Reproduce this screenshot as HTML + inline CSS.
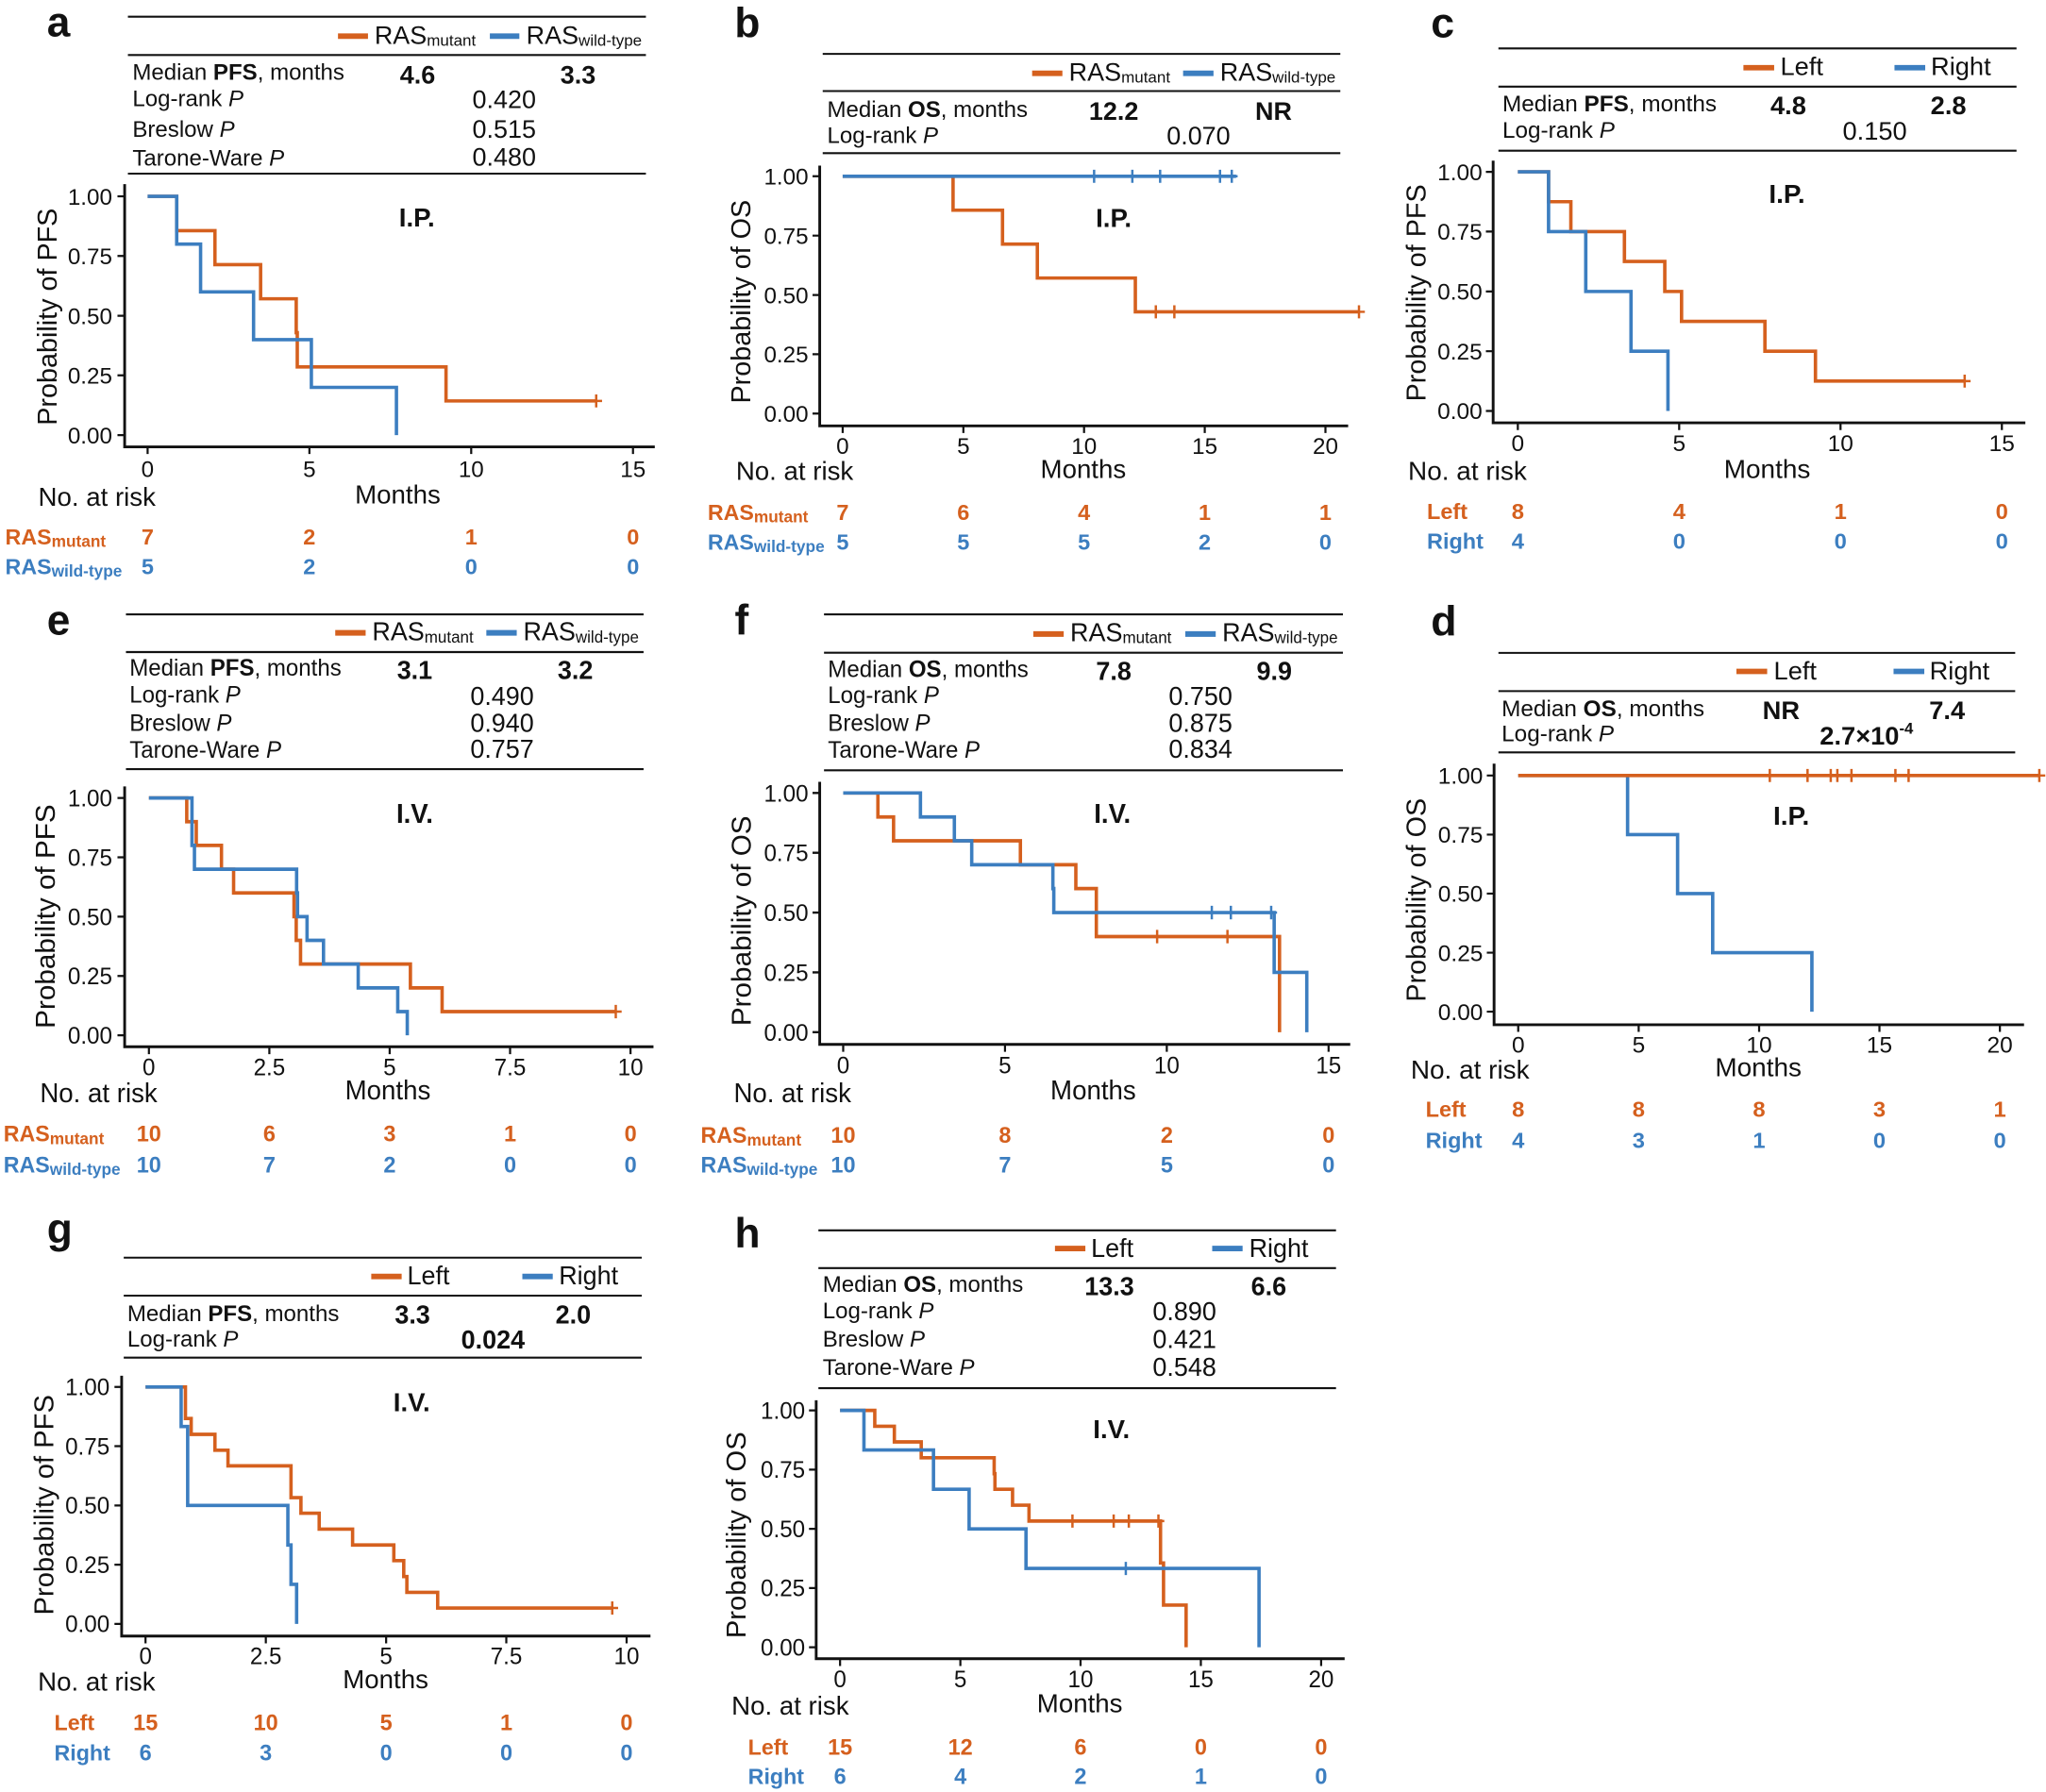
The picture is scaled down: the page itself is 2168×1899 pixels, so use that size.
<!DOCTYPE html>
<html><head><meta charset="utf-8"><style>
html,body{margin:0;padding:0;background:#fff;}
svg{display:block;}
text{font-family:"Liberation Sans",Arial,sans-serif;fill:#111;}
.lt{font-size:32px;font-weight:bold;}
.t{font-size:17.4px;}
.v{font-size:19.5px;}
.vb{font-size:19.5px;font-weight:bold;}
.tk{font-size:17.5px;}
.ax{font-size:20px;}
.yt{font-size:20.8px;}
.lg{font-size:19.5px;}
.sub{font-size:12.3px;}
.ip{font-size:20px;font-weight:bold;}
.rlo{font-size:16.8px;font-weight:bold;fill:#D5601E;}
.rlb{font-size:16.8px;font-weight:bold;fill:#3C7EC0;}
.rso{font-size:12.5px;}
.rno{font-size:17px;font-weight:bold;fill:#D5601E;text-anchor:middle;}
.rnb{font-size:17px;font-weight:bold;fill:#3C7EC0;text-anchor:middle;}
.m{text-anchor:middle;}
.e{text-anchor:end;}
.rule{stroke:#111;stroke-width:1.5;}
.axis{stroke:#111;stroke-width:2.1;fill:none;}
.tick{stroke:#111;stroke-width:1.6;}
.co{stroke:#D5601E;stroke-width:2.6;fill:none;}
.cb{stroke:#3C7EC0;stroke-width:2.6;fill:none;}
.ko{stroke:#D5601E;stroke-width:1.8;fill:none;}
.kb{stroke:#3C7EC0;stroke-width:1.8;fill:none;}
.lo{stroke:#D5601E;stroke-width:4.2;}
.lb{stroke:#3C7EC0;stroke-width:4.2;}
</style></head><body>
<svg width="2168" height="1899" viewBox="0 0 1568 1373.5" xmlns="http://www.w3.org/2000/svg">
<rect x="0" y="0" width="1568" height="1373.5" fill="#fff"/>

<!-- ================= PANEL A ================= -->
<g>
<text class="lt" x="36" y="28">a</text>
<line class="rule" x1="98" y1="12.8" x2="495" y2="12.8"/>
<line class="lo" x1="259" y1="27.7" x2="282" y2="27.7"/>
<text class="lg" x="287" y="33.6">RAS<tspan class="sub" dy="1.5">mutant</tspan></text>
<line class="lb" x1="375.4" y1="27.7" x2="398" y2="27.7"/>
<text class="lg" x="403.3" y="33.6">RAS<tspan class="sub" dy="1.5">wild-type</tspan></text>
<line class="rule" x1="98" y1="42.2" x2="495" y2="42.2"/>
<text class="t" x="101.5" y="61.3">Median <tspan font-weight="bold">PFS</tspan>, months</text>
<text class="vb m" x="320" y="64">4.6</text>
<text class="vb m" x="443" y="64">3.3</text>
<text class="t" x="101.5" y="81.2">Log-rank <tspan font-style="italic">P</tspan></text>
<text class="v" x="362" y="82.7">0.420</text>
<text class="t" x="101.5" y="104.9">Breslow <tspan font-style="italic">P</tspan></text>
<text class="v" x="362" y="105.5">0.515</text>
<text class="t" x="101.5" y="126.9">Tarone-Ware <tspan font-style="italic">P</tspan></text>
<text class="v" x="362" y="126.9">0.480</text>
<line class="rule" x1="98" y1="133.1" x2="495" y2="133.1"/>
<path class="axis" d="M95.5,141.1 V342.5 H501.8"/>
<path class="tick" d="M90,150.5H95.5M90,196.2H95.5M90,242H95.5M90,287.7H95.5M90,333.5H95.5M113.1,342.5V348M237.1,342.5V348M361.1,342.5V348M485.1,342.5V348"/>
<text class="tk e" x="86" y="156.8">1.00</text>
<text class="tk e" x="86" y="202.5">0.75</text>
<text class="tk e" x="86" y="248.3">0.50</text>
<text class="tk e" x="86" y="294">0.25</text>
<text class="tk e" x="86" y="339.8">0.00</text>
<text class="tk m" x="113.1" y="365.5">0</text>
<text class="tk m" x="237.1" y="365.5">5</text>
<text class="tk m" x="361.1" y="365.5">10</text>
<text class="tk m" x="485.1" y="365.5">15</text>
<text class="ax m" x="304.8" y="386">Months</text>
<text class="ax" x="29.3" y="387.8">No. at risk</text>
<text class="yt m" transform="translate(43.5,242.8) rotate(-90)">Probability of PFS</text>
<text class="ip m" x="319.5" y="173.5">I.P.</text>
<path class="co" d="M113.1,150.5 H135.4 V176.8 H164.7 V202.8 H199.7 V229 H227.0 V255 H227.8 V281.2 H341.8 V307.3 H456.9"/>
<path class="ko" d="M452.4,307.3H461.4M456.9,302.3V312.3"/>
<path class="cb" d="M113.1,150.5 H135.4 V187.1 H153.7 V223.7 H194.3 V260.3 H238.6 V296.9 H303.8 V333.5"/>
<text class="rlo" x="4" y="417.2">RAS<tspan class="rso" dy="2">mutant</tspan></text>
<text class="rlb" x="4" y="440">RAS<tspan class="rso" dy="2">wild-type</tspan></text>
<text class="rno" x="113.1" y="417.2">7</text><text class="rno" x="237.1" y="417.2">2</text><text class="rno" x="361.1" y="417.2">1</text><text class="rno" x="485.1" y="417.2">0</text>
<text class="rnb" x="113.1" y="440">5</text><text class="rnb" x="237.1" y="440">2</text><text class="rnb" x="361.1" y="440">0</text><text class="rnb" x="485.1" y="440">0</text>
</g>

<!-- ================= PANEL B ================= -->
<g>
<text class="lt" x="563" y="28.5">b</text>
<line class="rule" x1="630.5" y1="41.3" x2="1027.2" y2="41.3"/>
<line class="lo" x1="791" y1="56.2" x2="814.2" y2="56.2"/>
<text class="lg" x="819.2" y="61.9">RAS<tspan class="sub" dy="1.5">mutant</tspan></text>
<line class="lb" x1="906.7" y1="56.2" x2="930" y2="56.2"/>
<text class="lg" x="935" y="61.9">RAS<tspan class="sub" dy="1.5">wild-type</tspan></text>
<line class="rule" x1="630.5" y1="69.8" x2="1027.2" y2="69.8"/>
<text class="t" x="633.9" y="89.8">Median <tspan font-weight="bold">OS</tspan>, months</text>
<text class="vb m" x="853.5" y="92">12.2</text>
<text class="vb m" x="976" y="92">NR</text>
<text class="t" x="633.9" y="109.7">Log-rank <tspan font-style="italic">P</tspan></text>
<text class="v" x="894.1" y="110.8">0.070</text>
<line class="rule" x1="630.5" y1="117.4" x2="1027.2" y2="117.4"/>
<path class="axis" d="M628.2,126.9 V326.4 H1033.2"/>
<path class="tick" d="M622.7,135.1H628.2M622.7,180.6H628.2M622.7,226.1H628.2M622.7,271.5H628.2M622.7,317H628.2M645.8,326.4V331.9M738.3,326.4V331.9M830.8,326.4V331.9M923.3,326.4V331.9M1015.8,326.4V331.9"/>
<text class="tk e" x="619.5" y="141.4">1.00</text>
<text class="tk e" x="619.5" y="186.9">0.75</text>
<text class="tk e" x="619.5" y="232.4">0.50</text>
<text class="tk e" x="619.5" y="277.8">0.25</text>
<text class="tk e" x="619.5" y="323.3">0.00</text>
<text class="tk m" x="645.8" y="347.8">0</text>
<text class="tk m" x="738.3" y="347.8">5</text>
<text class="tk m" x="830.8" y="347.8">10</text>
<text class="tk m" x="923.3" y="347.8">15</text>
<text class="tk m" x="1015.8" y="347.8">20</text>
<text class="ax m" x="830.2" y="366.3">Months</text>
<text class="ax" x="564" y="367.7">No. at risk</text>
<text class="yt m" transform="translate(574.8,231.2) rotate(-90)">Probability of OS</text>
<text class="ip m" x="853.5" y="173.9">I.P.</text>
<path class="co" d="M645.8,135.1 H730.4 V161.1 H768.3 V187.1 H795.0 V213.1 H870.1 V239.0 H1041.5"/>
<path class="ko" d="M881.3,239H890.3M885.8,234V244M895.5,239H904.5M900,234V244M1037,239H1046M1041.5,234V244"/>
<path class="cb" d="M645.8,135.1 H947.3"/>
<path class="kb" d="M834,135.1H843M838.5,130.1V140.1M863.3,135.1H872.3M867.8,130.1V140.1M884.6,135.1H893.6M889.1,130.1V140.1M930.5,135.1H939.5M935,130.1V140.1M939.5,135.1H948.5M944,130.1V140.1"/>
<text class="rlo" x="542.3" y="398.5">RAS<tspan class="rso" dy="2">mutant</tspan></text>
<text class="rlb" x="542.3" y="421.3">RAS<tspan class="rso" dy="2">wild-type</tspan></text>
<text class="rno" x="645.8" y="398.5">7</text><text class="rno" x="738.3" y="398.5">6</text><text class="rno" x="830.8" y="398.5">4</text><text class="rno" x="923.3" y="398.5">1</text><text class="rno" x="1015.8" y="398.5">1</text>
<text class="rnb" x="645.8" y="421.3">5</text><text class="rnb" x="738.3" y="421.3">5</text><text class="rnb" x="830.8" y="421.3">5</text><text class="rnb" x="923.3" y="421.3">2</text><text class="rnb" x="1015.8" y="421.3">0</text>
</g>

<!-- ================= PANEL C ================= -->
<g transform="matrix(1.0111,0,0,1,-11.56,0)">
<text class="lt" x="1096" y="28.5">c</text>
<line class="rule" x1="1147.2" y1="37.1" x2="1539.9" y2="37.1"/>
<line class="lo" x1="1332.9" y1="51.9" x2="1356.2" y2="51.9"/>
<text class="lg" x="1360.9" y="57.6">Left</text>
<line class="lb" x1="1447.4" y1="51.9" x2="1470.7" y2="51.9"/>
<text class="lg" x="1475" y="57.6">Right</text>
<line class="rule" x1="1147.2" y1="66.4" x2="1539.9" y2="66.4"/>
<text class="t" x="1150.2" y="85.5">Median <tspan font-weight="bold">PFS</tspan>, months</text>
<text class="vb m" x="1366.9" y="87.5">4.8</text>
<text class="vb m" x="1488.3" y="87.5">2.8</text>
<text class="t" x="1150.2" y="105.5">Log-rank <tspan font-style="italic">P</tspan></text>
<text class="v" x="1408.1" y="107">0.150</text>
<line class="rule" x1="1147.2" y1="115.5" x2="1539.9" y2="115.5"/>
<path class="axis" d="M1143.2,123.1 V324.1 H1546.6"/>
<path class="tick" d="M1137.7,131.7H1143.2M1137.7,177.5H1143.2M1137.7,223.4H1143.2M1137.7,269.2H1143.2M1137.7,315H1143.2M1161.9,324.1V329.6M1284.2,324.1V329.6M1406.5,324.1V329.6M1528.8,324.1V329.6"/>
<text class="tk e" x="1135" y="138">1.00</text>
<text class="tk e" x="1135" y="183.8">0.75</text>
<text class="tk e" x="1135" y="229.7">0.50</text>
<text class="tk e" x="1135" y="275.5">0.25</text>
<text class="tk e" x="1135" y="321.3">0.00</text>
<text class="tk m" x="1161.9" y="345.6">0</text>
<text class="tk m" x="1284.2" y="345.6">5</text>
<text class="tk m" x="1406.5" y="345.6">10</text>
<text class="tk m" x="1528.8" y="345.6">15</text>
<text class="ax m" x="1350.9" y="366.3">Months</text>
<text class="ax" x="1078.7" y="367.7">No. at risk</text>
<text class="yt m" transform="translate(1092,224.5) rotate(-90)">Probability of PFS</text>
<text class="ip m" x="1365.9" y="155.4">I.P.</text>
<path class="co" d="M1161.9,131.7 H1185.2 V154.6 H1202.1 V177.5 H1242.7 V200.4 H1273.3 V223.4 H1286 V246.3 H1349.2 V269.2 H1387.5 V292.1 H1500.6"/>
<path class="ko" d="M1496.1,292.1H1505.1M1500.6,287.1V297.1"/>
<path class="cb" d="M1161.9,131.7 H1185.2 V177.5 H1213.4 V223.4 H1247.7 V269.2 H1275.7 V315"/>
<text class="rlo" x="1093" y="397.7">Left</text>
<text class="rlb" x="1093" y="420.5">Right</text>
<text class="rno" x="1161.9" y="397.7">8</text><text class="rno" x="1284.2" y="397.7">4</text><text class="rno" x="1406.5" y="397.7">1</text><text class="rno" x="1528.8" y="397.7">0</text>
<text class="rnb" x="1161.9" y="420.5">4</text><text class="rnb" x="1284.2" y="420.5">0</text><text class="rnb" x="1406.5" y="420.5">0</text><text class="rnb" x="1528.8" y="420.5">0</text>
</g>

<!-- ================= PANEL D ================= -->
<g transform="matrix(1.0111,0,0,1,-11.56,0)">
<text class="lt" x="1096" y="487">d</text>
<line class="rule" x1="1147.2" y1="500.4" x2="1538.9" y2="500.4"/>
<line class="lo" x1="1327.6" y1="514.6" x2="1350.9" y2="514.6"/>
<text class="lg" x="1355.9" y="520.6">Left</text>
<line class="lb" x1="1446.7" y1="514.6" x2="1470" y2="514.6"/>
<text class="lg" x="1474" y="520.6">Right</text>
<line class="rule" x1="1147.2" y1="529.7" x2="1538.9" y2="529.7"/>
<text class="t" x="1149.6" y="549.1">Median <tspan font-weight="bold">OS</tspan>, months</text>
<text class="vb m" x="1361.5" y="551">NR</text>
<text class="vb m" x="1487.3" y="551">7.4</text>
<text class="t" x="1149.6" y="568.2">Log-rank <tspan font-style="italic">P</tspan></text>
<text class="vb" x="1390.8" y="570.5">2.7×10<tspan font-size="12" dy="-8">-4</tspan></text>
<line class="rule" x1="1147.2" y1="576.7" x2="1538.9" y2="576.7"/>
<path class="axis" d="M1143.9,585.3 V785.4 H1545.6"/>
<path class="tick" d="M1138.4,594.4H1143.9M1138.4,639.7H1143.9M1138.4,684.9H1143.9M1138.4,730.2H1143.9M1138.4,775.4H1143.9M1162.2,785.4V790.9M1253.5,785.4V790.9M1344.8,785.4V790.9M1436,785.4V790.9M1527.3,785.4V790.9"/>
<text class="tk e" x="1135.5" y="600.7">1.00</text>
<text class="tk e" x="1135.5" y="646">0.75</text>
<text class="tk e" x="1135.5" y="691.2">0.50</text>
<text class="tk e" x="1135.5" y="736.5">0.25</text>
<text class="tk e" x="1135.5" y="781.7">0.00</text>
<text class="tk m" x="1162.2" y="806.8">0</text>
<text class="tk m" x="1253.5" y="806.8">5</text>
<text class="tk m" x="1344.8" y="806.8">10</text>
<text class="tk m" x="1436" y="806.8">15</text>
<text class="tk m" x="1527.3" y="806.8">20</text>
<text class="ax m" x="1344.2" y="824.8">Months</text>
<text class="ax" x="1080.7" y="826.8">No. at risk</text>
<text class="yt m" transform="translate(1092,689.8) rotate(-90)">Probability of OS</text>
<text class="ip m" x="1369.2" y="632.3">I.P.</text>
<path class="cb" d="M1162.2,594.4 H1245.1 V639.7 H1283 V684.9 H1309.6 V730.2 H1384.8 V775.4"/>
<path class="co" d="M1162.2,594.4 H1557.2"/>
<path class="ko" d="M1348.4,594.4H1357.4M1352.9,589.4V599.4M1377,594.4H1386M1381.5,589.4V599.4M1394.6,594.4H1403.6M1399.1,589.4V599.4M1399.6,594.4H1408.6M1404.1,589.4V599.4M1410.3,594.4H1419.3M1414.8,589.4V599.4M1443.6,594.4H1452.6M1448.1,589.4V599.4M1453.6,594.4H1462.6M1458.1,589.4V599.4M1552.7,594.4H1561.7M1557.2,589.4V599.4"/>
<text class="rlo" x="1092" y="856.1">Left</text>
<text class="rlb" x="1092" y="879.8">Right</text>
<text class="rno" x="1162.2" y="856.1">8</text><text class="rno" x="1253.5" y="856.1">8</text><text class="rno" x="1344.8" y="856.1">8</text><text class="rno" x="1436" y="856.1">3</text><text class="rno" x="1527.3" y="856.1">1</text>
<text class="rnb" x="1162.2" y="879.8">4</text><text class="rnb" x="1253.5" y="879.8">3</text><text class="rnb" x="1344.8" y="879.8">1</text><text class="rnb" x="1436" y="879.8">0</text><text class="rnb" x="1527.3" y="879.8">0</text>
</g>

<!-- ================= PANEL E ================= -->
<g transform="matrix(1,0,0,1.0324,0,-14.76)">
<text class="lt" x="36" y="485.5">e</text>
<line class="rule" x1="96.5" y1="470.4" x2="493.2" y2="470.4"/>
<line class="lo" x1="256.9" y1="484.1" x2="280.2" y2="484.1"/>
<text class="lg" x="285.2" y="489.8">RAS<tspan class="sub" dy="1.5">mutant</tspan></text>
<line class="lb" x1="372.7" y1="484.1" x2="396" y2="484.1"/>
<text class="lg" x="401" y="489.8">RAS<tspan class="sub" dy="1.5">wild-type</tspan></text>
<line class="rule" x1="96.5" y1="498.4" x2="493.2" y2="498.4"/>
<text class="t" x="99.2" y="516">Median <tspan font-weight="bold">PFS</tspan>, months</text>
<text class="vb m" x="317.8" y="518.5">3.1</text>
<text class="vb m" x="440.9" y="518.5">3.2</text>
<text class="t" x="99.2" y="536">Log-rank <tspan font-style="italic">P</tspan></text>
<text class="v" x="360.4" y="537.5">0.490</text>
<text class="t" x="99.2" y="556.8">Breslow <tspan font-style="italic">P</tspan></text>
<text class="v" x="360.4" y="557.5">0.940</text>
<text class="t" x="99.2" y="576.8">Tarone-Ware <tspan font-style="italic">P</tspan></text>
<text class="v" x="360.4" y="577">0.757</text>
<line class="rule" x1="96.5" y1="585.3" x2="493.2" y2="585.3"/>
<path class="axis" d="M95.5,598.1 V791.4 H500.8"/>
<path class="tick" d="M90,606.7H95.5M90,650.75H95.5M90,694.8H95.5M90,738.85H95.5M90,782.9H95.5M114.1,791.4V796.9M206.4,791.4V796.9M298.6,791.4V796.9M390.9,791.4V796.9M483.2,791.4V796.9"/>
<text class="tk e" x="86" y="613">1.00</text>
<text class="tk e" x="86" y="657">0.75</text>
<text class="tk e" x="86" y="701.1">0.50</text>
<text class="tk e" x="86" y="745.1">0.25</text>
<text class="tk e" x="86" y="789.2">0.00</text>
<text class="tk m" x="114.1" y="812.6">0</text>
<text class="tk m" x="206.4" y="812.6">2.5</text>
<text class="tk m" x="298.6" y="812.6">5</text>
<text class="tk m" x="390.9" y="812.6">7.5</text>
<text class="tk m" x="483.2" y="812.6">10</text>
<text class="ax m" x="297.2" y="830.5">Months</text>
<text class="ax" x="30.6" y="832.5">No. at risk</text>
<text class="yt m" transform="translate(42,694.6) rotate(-90)">Probability of PFS</text>
<text class="ip m" x="317.8" y="625.2">I.V.</text>
<path class="co" d="M114.1,606.7 H143.1 V624.3 H150.4 V641.9 H169.7 V659.6 H179 V677.2 H225.3 V694.8 H227 V712.4 H230.3 V730 H314.5 V747.7 H338.8 V765.3 H471.9"/>
<path class="ko" d="M467.4,765.3H476.4M471.9,760.3V770.3"/>
<path class="cb" d="M114.1,606.7 H147.1 V641.9 H149 V659.6 H227.3 V677.2 H228 V694.8 H235.3 V712.4 H247.9 V730 H274.5 V747.7 H304.8 V765.3 H312.1 V782.9"/>
<text class="rlo" x="2.7" y="861.8">RAS<tspan class="rso" dy="2">mutant</tspan></text>
<text class="rlb" x="2.7" y="884.6">RAS<tspan class="rso" dy="2">wild-type</tspan></text>
<text class="rno" x="114.1" y="861.8">10</text><text class="rno" x="206.4" y="861.8">6</text><text class="rno" x="298.6" y="861.8">3</text><text class="rno" x="390.9" y="861.8">1</text><text class="rno" x="483.2" y="861.8">0</text>
<text class="rnb" x="114.1" y="884.6">10</text><text class="rnb" x="206.4" y="884.6">7</text><text class="rnb" x="298.6" y="884.6">2</text><text class="rnb" x="390.9" y="884.6">0</text><text class="rnb" x="483.2" y="884.6">0</text>
</g>

<!-- ================= PANEL F ================= -->
<g transform="matrix(1,0,0,1.0324,0,-14.76)">
<text class="lt" x="563" y="485.5">f</text>
<line class="rule" x1="631.5" y1="470.4" x2="1029.2" y2="470.4"/>
<line class="lo" x1="791.9" y1="485" x2="815.2" y2="485"/>
<text class="lg" x="820.2" y="490.4">RAS<tspan class="sub" dy="1.5">mutant</tspan></text>
<line class="lb" x1="908.4" y1="485" x2="931.7" y2="485"/>
<text class="lg" x="936.7" y="490.4">RAS<tspan class="sub" dy="1.5">wild-type</tspan></text>
<line class="rule" x1="631.5" y1="498.9" x2="1029.2" y2="498.9"/>
<text class="t" x="634.5" y="516.9">Median <tspan font-weight="bold">OS</tspan>, months</text>
<text class="vb m" x="853.5" y="519">7.8</text>
<text class="vb m" x="976.6" y="519">9.9</text>
<text class="t" x="634.5" y="536.3">Log-rank <tspan font-style="italic">P</tspan></text>
<text class="v" x="895.7" y="537.5">0.750</text>
<text class="t" x="634.5" y="556.8">Breslow <tspan font-style="italic">P</tspan></text>
<text class="v" x="895.7" y="557.5">0.875</text>
<text class="t" x="634.5" y="576.8">Tarone-Ware <tspan font-style="italic">P</tspan></text>
<text class="v" x="895.7" y="577">0.834</text>
<line class="rule" x1="631.5" y1="586.2" x2="1029.2" y2="586.2"/>
<path class="axis" d="M628.2,594.7 V789.7 H1034.8"/>
<path class="tick" d="M622.7,603H628.2M622.7,647.4H628.2M622.7,691.8H628.2M622.7,736.2H628.2M622.7,780.6H628.2M646.2,789.7V795.2M770.2,789.7V795.2M894.2,789.7V795.2M1018.2,789.7V795.2"/>
<text class="tk e" x="619.5" y="609.3">1.00</text>
<text class="tk e" x="619.5" y="653.7">0.75</text>
<text class="tk e" x="619.5" y="698.1">0.50</text>
<text class="tk e" x="619.5" y="742.5">0.25</text>
<text class="tk e" x="619.5" y="786.9">0.00</text>
<text class="tk m" x="646.2" y="811.2">0</text>
<text class="tk m" x="770.2" y="811.2">5</text>
<text class="tk m" x="894.2" y="811.2">10</text>
<text class="tk m" x="1018.2" y="811.2">15</text>
<text class="ax m" x="837.8" y="830.5">Months</text>
<text class="ax" x="562.3" y="832.5">No. at risk</text>
<text class="yt m" transform="translate(575.5,697.9) rotate(-90)">Probability of OS</text>
<text class="ip m" x="852.5" y="625.2">I.V.</text>
<path class="co" d="M646.2,603 H672.8 V620.8 H684.8 V638.5 H782 V656.3 H824.5 V674 H840.2 V709.6 H980.6 V780.6"/>
<path class="ko" d="M882.3,709.6H891.3M886.8,704.6V714.6M936.2,709.6H945.2M940.7,704.6V714.6"/>
<path class="cb" d="M646.2,603 H705.4 V620.8 H731.4 V638.5 H744.7 V656.3 H806.9 V674 H807.6 V691.8 H976.5 V736.2 H1001.5 V780.6"/>
<path class="kb" d="M924.2,691.8H933.2M928.7,686.8V696.8M938.8,691.8H947.8M943.3,686.8V696.8M969.7,691.8H978.7M974.2,686.8V696.8"/>
<text class="rlo" x="537" y="862.7">RAS<tspan class="rso" dy="2">mutant</tspan></text>
<text class="rlb" x="537" y="884.6">RAS<tspan class="rso" dy="2">wild-type</tspan></text>
<text class="rno" x="646.2" y="862.7">10</text><text class="rno" x="770.2" y="862.7">8</text><text class="rno" x="894.2" y="862.7">2</text><text class="rno" x="1018.2" y="862.7">0</text>
<text class="rnb" x="646.2" y="884.6">10</text><text class="rnb" x="770.2" y="884.6">7</text><text class="rnb" x="894.2" y="884.6">5</text><text class="rnb" x="1018.2" y="884.6">0</text>
</g>

<!-- ================= PANEL G ================= -->
<g transform="matrix(1,0,0,1.01446,0,-13.28)">
<text class="lt" x="36" y="952">g</text>
<line class="rule" x1="94.8" y1="963.3" x2="491.8" y2="963.3"/>
<line class="lo" x1="284.5" y1="977.5" x2="307.8" y2="977.5"/>
<text class="lg" x="312.1" y="983.5">Left</text>
<line class="lb" x1="400.3" y1="977.5" x2="423.6" y2="977.5"/>
<text class="lg" x="428.3" y="983.5">Right</text>
<line class="rule" x1="94.8" y1="992" x2="491.8" y2="992"/>
<text class="t" x="97.5" y="1011.1">Median <tspan font-weight="bold">PFS</tspan>, months</text>
<text class="vb m" x="316.1" y="1013">3.3</text>
<text class="vb m" x="439.3" y="1013">2.0</text>
<text class="t" x="97.5" y="1030.5">Log-rank <tspan font-style="italic">P</tspan></text>
<text class="vb" x="353.4" y="1032">0.024</text>
<line class="rule" x1="94.8" y1="1038.8" x2="491.8" y2="1038.8"/>
<path class="axis" d="M93.2,1052.5 V1249.2 H498.5"/>
<path class="tick" d="M87.7,1061H93.2M87.7,1105.75H93.2M87.7,1150.5H93.2M87.7,1195.25H93.2M87.7,1240H93.2M111.5,1249.2V1254.7M203.7,1249.2V1254.7M295.9,1249.2V1254.7M388,1249.2V1254.7M480.2,1249.2V1254.7"/>
<text class="tk e" x="84" y="1067.3">1.00</text>
<text class="tk e" x="84" y="1112">0.75</text>
<text class="tk e" x="84" y="1156.8">0.50</text>
<text class="tk e" x="84" y="1201.5">0.25</text>
<text class="tk e" x="84" y="1246.3">0.00</text>
<text class="tk m" x="111.5" y="1270.3">0</text>
<text class="tk m" x="203.7" y="1270.3">2.5</text>
<text class="tk m" x="295.9" y="1270.3">5</text>
<text class="tk m" x="388" y="1270.3">7.5</text>
<text class="tk m" x="480.2" y="1270.3">10</text>
<text class="ax m" x="295.5" y="1288.5">Months</text>
<text class="ax" x="29" y="1290.5">No. at risk</text>
<text class="yt m" transform="translate(40.8,1150.1) rotate(-90)">Probability of PFS</text>
<text class="ip m" x="315.5" y="1079.5">I.V.</text>
<path class="co" d="M111.5,1061 H142.1 V1084.8 H146.5 V1096.8 H164.7 V1108.8 H174.7 V1120.6 H223 V1144.6 H230.6 V1156.4 H244.6 V1168.4 H270.2 V1180.4 H301.8 V1192.2 H309.4 V1204.2 H311.8 V1216.2 H335.4 V1228 H469.2"/>
<path class="ko" d="M464.7,1228H473.7M469.2,1223V1233"/>
<path class="cb" d="M111.5,1061 H138.8 V1090.9 H143.8 V1150.5 H220.6 V1180.4 H223 V1210.1 H227.3 V1240"/>
<text class="rlo" x="41.6" y="1320.4">Left</text>
<text class="rlb" x="41.6" y="1343.2">Right</text>
<text class="rno" x="111.5" y="1320.4">15</text><text class="rno" x="203.7" y="1320.4">10</text><text class="rno" x="295.9" y="1320.4">5</text><text class="rno" x="388" y="1320.4">1</text><text class="rno" x="480.2" y="1320.4">0</text>
<text class="rnb" x="111.5" y="1343.2">6</text><text class="rnb" x="203.7" y="1343.2">3</text><text class="rnb" x="295.9" y="1343.2">0</text><text class="rnb" x="388" y="1343.2">0</text><text class="rnb" x="480.2" y="1343.2">0</text>
</g>

<!-- ================= PANEL H ================= -->
<g transform="matrix(1,0,0,1.01446,0,-13.28)">
<text class="lt" x="563" y="955.6">h</text>
<line class="rule" x1="627.2" y1="942.7" x2="1023.9" y2="942.7"/>
<line class="lo" x1="808.5" y1="956.4" x2="831.8" y2="956.4"/>
<text class="lg" x="836.2" y="962.7">Left</text>
<line class="lb" x1="929" y1="956.4" x2="952.3" y2="956.4"/>
<text class="lg" x="957.3" y="962.7">Right</text>
<line class="rule" x1="627.2" y1="971.2" x2="1023.9" y2="971.2"/>
<text class="t" x="630.5" y="989.2">Median <tspan font-weight="bold">OS</tspan>, months</text>
<text class="vb m" x="850.2" y="991.5">13.3</text>
<text class="vb m" x="972.3" y="991.5">6.6</text>
<text class="t" x="630.5" y="1009.2">Log-rank <tspan font-style="italic">P</tspan></text>
<text class="v" x="883.4" y="1010.5">0.890</text>
<text class="t" x="630.5" y="1030.5">Breslow  <tspan font-style="italic">P</tspan></text>
<text class="v" x="883.4" y="1031.5">0.421</text>
<text class="t" x="630.5" y="1051.9">Tarone-Ware  <tspan font-style="italic">P</tspan></text>
<text class="v" x="883.4" y="1052.5">0.548</text>
<line class="rule" x1="627.2" y1="1061.9" x2="1023.9" y2="1061.9"/>
<path class="axis" d="M625.5,1071 V1266.3 H1030.5"/>
<path class="tick" d="M620,1078.7H625.5M620,1123.45H625.5M620,1168.2H625.5M620,1212.95H625.5M620,1257.7H625.5M643.8,1266.3V1271.8M736,1266.3V1271.8M828.1,1266.3V1271.8M920.3,1266.3V1271.8M1012.5,1266.3V1271.8"/>
<text class="tk e" x="617" y="1085">1.00</text>
<text class="tk e" x="617" y="1129.7">0.75</text>
<text class="tk e" x="617" y="1174.5">0.50</text>
<text class="tk e" x="617" y="1219.2">0.25</text>
<text class="tk e" x="617" y="1264">0.00</text>
<text class="tk m" x="643.8" y="1287.8">0</text>
<text class="tk m" x="736" y="1287.8">5</text>
<text class="tk m" x="828.1" y="1287.8">10</text>
<text class="tk m" x="920.3" y="1287.8">15</text>
<text class="tk m" x="1012.5" y="1287.8">20</text>
<text class="ax m" x="827.5" y="1306.8">Months</text>
<text class="ax" x="560.6" y="1308.5">No. at risk</text>
<text class="yt m" transform="translate(571.5,1172.9) rotate(-90)">Probability of OS</text>
<text class="ip m" x="851.8" y="1099.5">I.V.</text>
<path class="co" d="M643.8,1078.7 H670.4 V1090.7 H685.4 V1102.5 H706 V1114.5 H761.9 V1126.5 H762.5 V1138.3 H776 V1150.3 H788.6 V1162.3 H889.4 V1194 H891.7 V1225.8 H909 V1257.7"/>
<path class="ko" d="M817.4,1162.3H826.4M821.9,1157.3V1167.3M849,1162.3H858M853.5,1157.3V1167.3M860.6,1162.3H869.6M865.1,1157.3V1167.3M883.3,1162.3H892.3M887.8,1157.3V1167.3"/>
<path class="cb" d="M643.8,1078.7 H662.1 V1108.6 H715.4 V1138.3 H742.7 V1168.2 H786.3 V1198.1 H964.9 V1257.7"/>
<path class="kb" d="M858.3,1198.1H867.3M862.8,1193.1V1203.1"/>
<text class="rlo" x="573.3" y="1339">Left</text>
<text class="rlb" x="573.3" y="1360.9">Right</text>
<text class="rno" x="643.8" y="1339">15</text><text class="rno" x="736" y="1339">12</text><text class="rno" x="828.1" y="1339">6</text><text class="rno" x="920.3" y="1339">0</text><text class="rno" x="1012.5" y="1339">0</text>
<text class="rnb" x="643.8" y="1360.9">6</text><text class="rnb" x="736" y="1360.9">4</text><text class="rnb" x="828.1" y="1360.9">2</text><text class="rnb" x="920.3" y="1360.9">1</text><text class="rnb" x="1012.5" y="1360.9">0</text>
</g>
</svg>
</body></html>
